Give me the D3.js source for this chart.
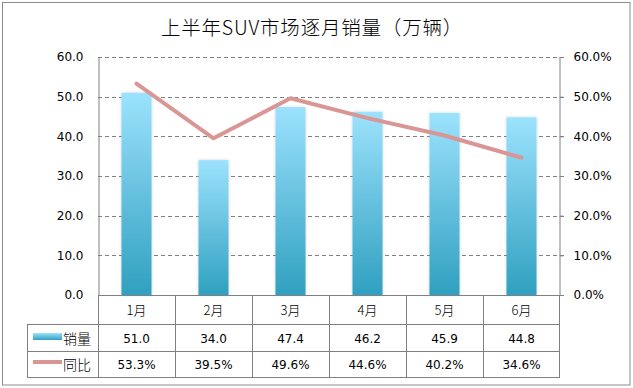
<!DOCTYPE html>
<html><head><meta charset="utf-8">
<script src="https://cdn.jsdelivr.net/npm/d3@7/dist/d3.min.js"></script>
<style>
body{margin:0;background:#fff;}
svg{display:block;}
</style></head>
<body>
<svg id="c" width="633" height="388"></svg>
<script>
const title = "上半年SUV市场逐月销量（万辆）";
const categories = ["1月","2月","3月","4月","5月","6月"];
const sales = [51.0, 34.0, 47.4, 46.2, 45.9, 44.8];
const yoy = [53.3, 39.5, 49.6, 44.6, 40.2, 34.6];
const leftTicks = [0,10,20,30,40,50,60];
const rightTicks = [0,10,20,30,40,50,60];
const seriesNames = ["销量","同比"];

const svg = d3.select("#c");
const L = 98, R = 560, T = 57, B = 295;
const sans = "'DejaVu Sans','Noto Sans CJK SC',sans-serif";
const cjk = "'Noto Sans CJK SC',sans-serif";

const defs = svg.append("defs");
const g1 = defs.append("linearGradient").attr("id","barg").attr("x1",0).attr("y1",0).attr("x2",0).attr("y2",1);
g1.append("stop").attr("offset","0%").attr("stop-color","#9ce2fd");
g1.append("stop").attr("offset","100%").attr("stop-color","#30a0c0");
const g2 = defs.append("linearGradient").attr("id","legg").attr("x1",0).attr("y1",0).attr("x2",0).attr("y2",1);
g2.append("stop").attr("offset","0%").attr("stop-color","#9ce2fd");
g2.append("stop").attr("offset","100%").attr("stop-color","#30a0c0");
const f = defs.append("filter").attr("id","sh").attr("x","-30%").attr("y","-10%").attr("width","160%").attr("height","120%");
f.append("feGaussianBlur").attr("in","SourceAlpha").attr("stdDeviation",1.5).attr("result","b");
f.append("feFlood").attr("flood-color","#000").attr("flood-opacity",0.18);
f.append("feComposite").attr("in2","b").attr("operator","in").attr("result","s");
const m = f.append("feMerge");
m.append("feMergeNode").attr("in","s");
m.append("feMergeNode").attr("in","SourceGraphic");

// outer border
svg.append("rect").attr("x",2.5).attr("y",2.5).attr("width",627.5).attr("height",382.5)
  .attr("fill","#fff").attr("stroke","#8c8c8c").attr("stroke-width",1);

svg.append("text").attr("x",312).attr("y",35).attr("text-anchor","middle")
  .attr("font-family",cjk).attr("font-size",19.5).attr("font-weight",300).attr("letter-spacing",0.8)
  .attr("fill","#000").text(title);

const x = d3.scaleBand().domain(categories).range([L,R]).paddingInner(0.61).paddingOuter(0.305);
const xc = d3.scaleBand().domain(categories).range([L,R]);
const yL = d3.scaleLinear().domain([0,60]).range([B,T]);
const yR = d3.scaleLinear().domain([0,60]).range([B,T]);

// gridlines
svg.append("g").selectAll("line").data(leftTicks.filter(d=>d>0)).join("line")
  .attr("x1",L).attr("x2",R+4).attr("y1",d=>Math.round(yL(d))+0.5).attr("y2",d=>Math.round(yL(d))+0.5)
  .attr("stroke","#808080").attr("stroke-dasharray","4,3");

// bars
svg.append("g").selectAll("rect").data(sales).join("rect")
  .attr("x",(d,i)=>x(categories[i])).attr("width",x.bandwidth())
  .attr("y",d=>yL(d)).attr("height",d=>B-yL(d))
  .attr("fill","url(#barg)").attr("filter","url(#sh)");

// axes
const axL = d3.axisLeft(yL).tickValues(leftTicks).tickFormat(d=>d.toFixed(1)).tickSize(0).tickPadding(15);
const gL = svg.append("g").attr("transform",`translate(${L+0.5},0)`).call(axL);
gL.select(".domain").attr("stroke","#808080");
gL.selectAll("text").attr("font-family",sans).attr("font-size",12).attr("fill","#000");
const axR = d3.axisRight(yR).tickValues(rightTicks).tickFormat(d=>d.toFixed(1)+"%").tickSize(4).tickPadding(10);
const gR = svg.append("g").attr("transform",`translate(${R-0.5},0)`).call(axR);
gR.select(".domain").attr("stroke","#808080");
gR.selectAll(".tick line").attr("stroke","#808080");
gR.selectAll("text").attr("font-family",sans).attr("font-size",12).attr("fill","#000");

// line
const line = d3.line().x((d,i)=>xc(categories[i])+xc.bandwidth()/2).y(d=>yR(d));
svg.append("path").datum(yoy).attr("d",line).attr("fill","none")
  .attr("stroke","#d99694").attr("stroke-width",4).attr("stroke-linecap","round").attr("stroke-linejoin","round");

// table
const r0 = B, r1 = 324, r2 = 351, r3 = 377, TL = 27;
const tg = svg.append("g").attr("stroke","#808080").attr("stroke-width",1);
tg.append("line").attr("x1",L).attr("x2",R+4).attr("y1",r0+0.5).attr("y2",r0+0.5);
[r1,r2,r3].forEach(y=>tg.append("line").attr("x1",TL).attr("x2",R).attr("y1",y+0.5).attr("y2",y+0.5));
tg.append("line").attr("x1",TL+0.5).attr("x2",TL+0.5).attr("y1",r1).attr("y2",r3+0.5);
categories.forEach((c,i)=>{
  const xx = Math.round(xc(c)+xc.bandwidth())+ (i===categories.length-1 ? -0.5 : 0.5);
  tg.append("line").attr("x1",xx).attr("x2",xx).attr("y1",r0).attr("y2",r3+0.5);
});
tg.append("line").attr("x1",L+0.5).attr("x2",L+0.5).attr("y1",r0).attr("y2",r3+0.5);

const tx = svg.append("g");
tx.selectAll(".cat").data(categories).join("text")
  .attr("x",d=>xc(d)+xc.bandwidth()/2).attr("y",(r0+r1)/2+5).attr("text-anchor","middle")
  .attr("font-family",cjk).attr("font-size",13).attr("font-weight",300).text(d=>d);
tx.selectAll(".v1").data(sales).join("text")
  .attr("x",(d,i)=>xc(categories[i])+xc.bandwidth()/2).attr("y",(r1+r2)/2+5).attr("text-anchor","middle")
  .attr("font-family",sans).attr("font-size",12).text(d=>d.toFixed(1));
tx.selectAll(".v2").data(yoy).join("text")
  .attr("x",(d,i)=>xc(categories[i])+xc.bandwidth()/2).attr("y",(r2+r3)/2+5).attr("text-anchor","middle")
  .attr("font-family",sans).attr("font-size",12).text(d=>d.toFixed(1)+"%");

// legend keys
svg.append("rect").attr("x",33).attr("y",333).attr("width",29).attr("height",7).attr("fill","url(#legg)");
svg.append("line").attr("x1",33).attr("x2",62).attr("y1",362).attr("y2",362).attr("stroke","#d99694").attr("stroke-width",4);
svg.append("text").attr("x",63).attr("y",(r1+r2)/2+6).attr("font-family",cjk).attr("font-size",14).attr("font-weight",300).text(seriesNames[0]);
svg.append("text").attr("x",63).attr("y",(r2+r3)/2+6).attr("font-family",cjk).attr("font-size",14).attr("font-weight",300).text(seriesNames[1]);
</script>
</body></html>
